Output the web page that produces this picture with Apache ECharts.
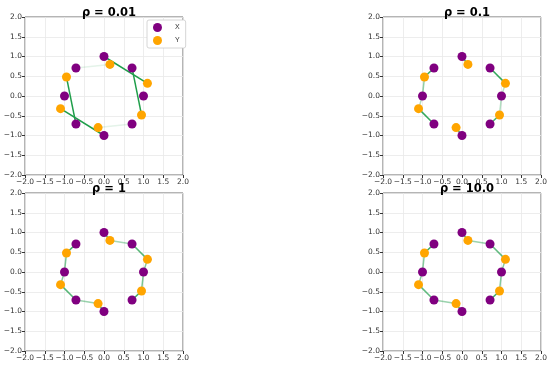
<!DOCTYPE html>
<html><head><meta charset="utf-8">
<script src="https://cdn.jsdelivr.net/npm/echarts@6/dist/echarts.min.js"></script>
<style>html,body{margin:0;padding:0;background:#fff}#c{width:550px;height:368px}</style>
</head><body><div id="c"></div>
<script>
// Source points (X) on unit circle, target points (Y)
const xPoints = [[0,1],[0.71,0.71],[1,0],[0.71,-0.71],[0,-1],[-0.71,-0.71],[-1,0],[-0.71,0.71]];
const yPoints = [[0.15,0.8],[1.1,0.32],[0.95,-0.48],[-0.15,-0.8],[-1.1,-0.32],[-0.95,0.48]];
const rhoLabels = ['ρ = 0.01','ρ = 0.1','ρ = 1','ρ = 10.0'];
// transport plans: [xIndex, yIndex, weight]
const plan001 = [[0,1,1],[1,2,1],[5,5,1],[4,4,1],[7,0,0.12],[3,3,0.12]];
const plan01 = [[0,0,0.8],[1,1,0.9],[2,1,0.3],[2,2,0.35],[3,2,0.8],[4,3,0.8],[5,4,0.9],[6,4,0.35],[6,5,0.5],[7,5,0.85]];
const plan1 = [[0,0,0.8],[1,0,0.4],[1,1,0.75],[2,1,0.55],[2,2,0.6],[3,2,0.85],[4,3,0.8],[5,3,0.45],[5,4,0.75],[6,4,0.55],[6,5,0.6],[7,5,0.85]];
const plan10 = [[0,0,0.8],[1,0,0.45],[1,1,0.7],[2,1,0.55],[2,2,0.55],[3,2,0.85],[4,3,0.8],[5,3,0.45],[5,4,0.7],[6,4,0.55],[6,5,0.55],[7,5,0.85]];
const plans = [plan001, plan01, plan1, plan10];
const tickValues = [-2,-1.5,-1,-0.5,0,0.5,1,1.5,2];

const layout = [
  {left:25, top:17}, {left:383, top:17},
  {left:25, top:193}, {left:383, top:193}
];
const W = 158, H = 158;
const fmt = v => (v < 0 ? '\u2212' : '') + Math.abs(v).toFixed(1);

const grids = [], xAxes = [], yAxes = [], series = [], titles = [];
layout.forEach((p, i) => {
  grids.push({left:p.left, top:p.top, width:W, height:H, show:true, borderColor:'#444', borderWidth:0.8, backgroundColor:'#fff'});
  const axisCommon = {
    gridIndex:i, type:'value', min:tickValues[0], max:tickValues[tickValues.length-1], interval:0.5,
    axisLine:{show:false, onZero:false}, axisTick:{show:true, length:3, lineStyle:{color:'#333'}},
    axisLabel:{fontSize:7.5, color:'#333', margin:3, formatter:fmt, fontFamily:'DejaVu Sans'},
    splitLine:{show:true, lineStyle:{color:'#e8e8e8', width:0.8}}
  };
  xAxes.push(Object.assign({}, axisCommon));
  yAxes.push(Object.assign({}, axisCommon));
  titles.push({text:rhoLabels[i], left:p.left + W/2, top:p.top - 15, textAlign:'center',
    textStyle:{fontSize:11.5, fontWeight:'bold', color:'#000', fontFamily:'DejaVu Sans'}});
  series.push({
    type:'lines', coordinateSystem:'cartesian2d', xAxisIndex:i, yAxisIndex:i, z:1, silent:true,
    data: plans[i].map(([a,b,w]) => ({coords:[xPoints[a], yPoints[b]], lineStyle:{opacity:w}})),
    lineStyle:{color:'#1f9e4a', width:1.5}
  });
  series.push({name:'X', type:'scatter', xAxisIndex:i, yAxisIndex:i, z:3, symbolSize:9,
    itemStyle:{color:'#800080', opacity:1}, data:xPoints});
  series.push({name:'Y', type:'scatter', xAxisIndex:i, yAxisIndex:i, z:4, symbolSize:9,
    itemStyle:{color:'#FFA500', opacity:1}, data:yPoints});
});

const chart = echarts.init(document.getElementById('c'), null, {renderer:'canvas'});
chart.setOption({
  animation:false,
  title:titles,
  legend:{data:['X','Y'], orient:'vertical', left:147, top:20, itemWidth:9, itemHeight:9, itemGap:4,
    icon:'circle', borderColor:'#ccc', borderWidth:0.8, borderRadius:2, padding:[3,6,3,6],
    backgroundColor:'#fff', textStyle:{fontSize:7, color:'#333', padding:[0,0,0,8]}},
  grid:grids, xAxis:xAxes, yAxis:yAxes, series:series
});
</script></body></html>
